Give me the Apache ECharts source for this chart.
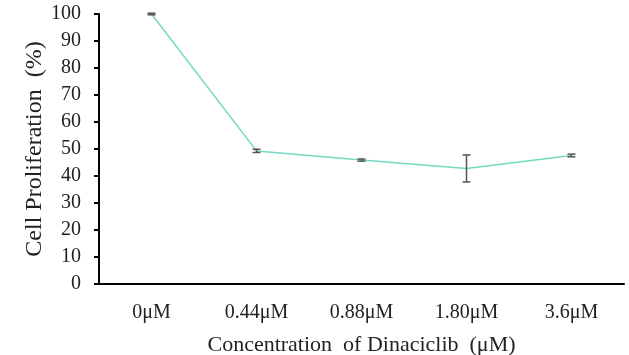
<!DOCTYPE html>
<html>
<head>
<meta charset="utf-8">
<script src="https://cdn.jsdelivr.net/npm/echarts@6/dist/echarts.min.js"></script>
<style>
html, body { margin: 0; padding: 0; background: #fff; }
#chart { width: 629px; height: 355px; }
</style>
</head>
<body>
<div id="chart"></div>
<script>
// data
var categories = ['0μM', '0.44μM', '0.88μM', '1.80μM', '3.6μM'];
var proliferation = [100, 49.3, 45.9, 42.8, 47.6];
var errors = [0.3, 0.6, 0.4, 5.0, 0.5];

var font = 'Liberation Serif';
var chart = echarts.init(document.getElementById('chart'));

chart.setOption({
    backgroundColor: '#ffffff',
    animation: false,
    grid: { left: 99, right: 5, top: 14, bottom: 71, containLabel: false, outerBoundsMode: 'none' },
    xAxis: {
        type: 'category',
        data: categories,
        boundaryGap: true,
        name: 'Concentration  of Dinaciclib  (μM)',
        nameLocation: 'middle',
        nameGap: 50,
        nameMoveOverlap: false,
        nameTextStyle: { fontFamily: font, fontSize: 22, color: '#222' },
        axisLine: { lineStyle: { color: '#000', width: 2 } },
        axisTick: { show: false },
        axisLabel: { fontFamily: font, fontSize: 20, color: '#222', margin: 19 },
        splitLine: { show: false }
    },
    yAxis: {
        type: 'value',
        min: 0,
        max: 100,
        interval: 10,
        name: 'Cell Proliferation  (%)',
        nameLocation: 'middle',
        nameGap: 52,
        nameMoveOverlap: false,
        nameTextStyle: { fontFamily: font, fontSize: 24, color: '#222' },
        axisLine: { show: true, lineStyle: { color: '#000', width: 2 } },
        axisTick: { show: true, length: 5, lineStyle: { color: '#000', width: 2 } },
        axisLabel: { fontFamily: font, fontSize: 20, color: '#222', margin: 18 },
        splitLine: { show: false }
    },
    series: [
        {
            type: 'line',
            data: proliferation,
            symbol: 'none',
            lineStyle: { color: '#72D9C2', width: 1.5 },
            z: 2
        },
        {
            type: 'custom',
            z: 3,
            data: proliferation.map(function (v, i) { return [i, v - errors[i], v + errors[i]]; }),
            renderItem: function (params, api) {
                var lo = api.coord([api.value(0), api.value(1)]);
                var hi = api.coord([api.value(0), api.value(2)]);
                var w = 4;
                var style = { stroke: '#555', lineWidth: 1.5 };
                return {
                    type: 'group',
                    children: [
                        { type: 'line', shape: { x1: lo[0], y1: lo[1], x2: hi[0], y2: hi[1] }, style: style },
                        { type: 'line', shape: { x1: lo[0] - w, y1: lo[1], x2: lo[0] + w, y2: lo[1] }, style: style },
                        { type: 'line', shape: { x1: hi[0] - w, y1: hi[1], x2: hi[0] + w, y2: hi[1] }, style: style }
                    ]
                };
            }
        }
    ]
});
</script>
</body>
</html>
